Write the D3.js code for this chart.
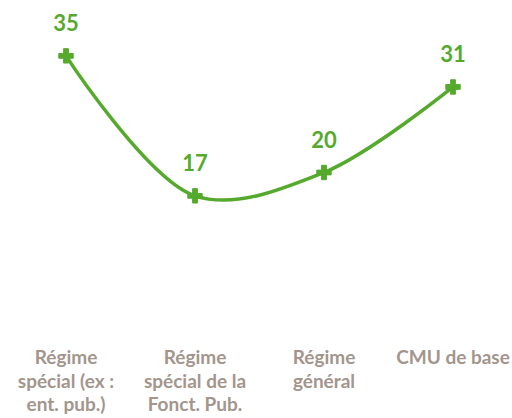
<!DOCTYPE html>
<html>
<head>
<meta charset="utf-8">
<script src="https://cdn.jsdelivr.net/npm/d3@7"></script>
<style>
  html, body { margin: 0; padding: 0; background: #fff; }
  svg { display: block; }
</style>
</head>
<body>
<div id="chart"></div>
<script>
const categories = ["Régime spécial (ex : ent. pub.)", "Régime spécial de la Fonct. Pub.", "Régime général", "CMU de base"];
const tickLines = [
  ["Régime", "spécial (ex :", "ent. pub.)"],
  ["Régime", "spécial de la", "Fonct. Pub."],
  ["Régime", "général"],
  ["CMU de base"],
];
const values = [35, 17, 20, 31];

const width = 512,
  height = 418;
const green = "#55aa2d";

const svg = d3
  .select("#chart")
  .append("svg")
  .attr("width", width)
  .attr("height", height);

const x = d3.scaleBand().domain(categories).range([1.5, 517.5]);
const y = d3.scaleLinear().domain([0, 40]).range([328, 17]);
const cx = (c) => x(c) + x.bandwidth() / 2;

const data = categories.map((c, i) => ({ cat: c, value: values[i] }));

const line = d3
  .line()
  .x((d) => cx(d.cat))
  .y((d) => y(d.value))
  .curve(d3.curveCatmullRom.alpha(0.5));

svg
  .append("path")
  .datum(data)
  .attr("d", line)
  .attr("fill", "none")
  .attr("stroke", green)
  .attr("stroke-width", 3.5);

// plus markers
const plus = d3.symbol().type(d3.symbolCross).size(115);
svg
  .selectAll("path.marker")
  .data(data)
  .enter()
  .append("path")
  .attr("class", "marker")
  .attr("d", plus)
  .attr("transform", (d) => `translate(${cx(d.cat)},${y(d.value)})`)
  .attr("fill", green)
  .attr("stroke", green)
  .attr("stroke-width", 1)
  .attr("stroke-linejoin", "round");

// value labels
svg
  .selectAll("text.value")
  .data(data)
  .enter()
  .append("text")
  .attr("class", "value")
  .attr("x", (d) => cx(d.cat))
  .attr("y", (d) => y(d.value) - 25)
  .attr("text-anchor", "middle")
  .attr("font-family", "Lato, 'Open Sans', sans-serif")
  .attr("font-weight", "bold")
  .attr("font-size", "22px")
  .attr("fill", green)
  .text((d) => d.value);

// category labels
const ticks = svg
  .selectAll("text.tick")
  .data(categories)
  .enter()
  .append("text")
  .attr("class", "tick")
  .attr("text-anchor", "middle")
  .attr("font-family", "Lato, 'Open Sans', sans-serif")
  .attr("font-weight", "bold")
  .attr("font-size", "19px")
  .attr("fill", "#a3958c");

ticks
  .selectAll("tspan")
  .data((d, i) => tickLines[i].map((t) => ({ t, c: d })))
  .enter()
  .append("tspan")
  .attr("x", (d) => cx(d.c))
  .attr("y", (d, j) => 364 + j * 23.5)
  .text((d) => d.t);
</script>
</body>
</html>
